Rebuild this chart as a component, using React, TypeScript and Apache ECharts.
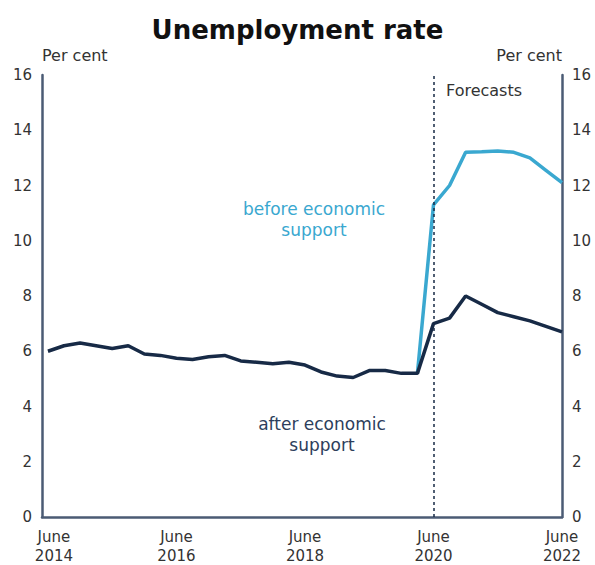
import React, { useEffect, useRef } from "react";
import * as echarts from "echarts";

// Quarterly observations, June 2014 to June 2022
const quarters = [
  "Jun-2014", "Sep-2014", "Dec-2014", "Mar-2015", "Jun-2015", "Sep-2015", "Dec-2015", "Mar-2016",
  "Jun-2016", "Sep-2016", "Dec-2016", "Mar-2017", "Jun-2017", "Sep-2017", "Dec-2017", "Mar-2018",
  "Jun-2018", "Sep-2018", "Dec-2018", "Mar-2019", "Jun-2019", "Sep-2019", "Dec-2019", "Mar-2020",
  "Jun-2020", "Sep-2020", "Dec-2020", "Mar-2021", "Jun-2021", "Sep-2021", "Dec-2021", "Mar-2022",
  "Jun-2022",
];

const afterSupport = [
  6.0, 6.2, 6.3, 6.2, 6.1, 6.2, 5.9, 5.85,
  5.75, 5.7, 5.8, 5.85, 5.65, 5.6, 5.55, 5.6,
  5.5, 5.25, 5.1, 5.05, 5.3, 5.3, 5.2, 5.2,
  7.0, 7.2, 8.0, 7.7, 7.4, 7.25, 7.1, 6.9,
  6.7,
];

const beforeSupport = [
  null, null, null, null, null, null, null, null,
  null, null, null, null, null, null, null, null,
  null, null, null, null, null, null, null, 5.2,
  11.3, 12.0, 13.2, 13.22, 13.25, 13.2, 13.0, 12.55,
  12.1,
];

const xTickPositions = [0, 8, 16, 24, 32];
const xTickMonths = ["June", "June", "June", "June", "June"];
const xTickYears = ["2014", "2016", "2018", "2020", "2022"];
const forecastStart = 24;

const NAVY = "#172a46";
const BLUE = "#3aa8d0";
const AXIS = "#4b5b74";
const TEXT = "#333333";
const FONT = "DejaVu Sans";

export default function App() {
  const ref = useRef<HTMLDivElement>(null);

  useEffect(() => {
    document.body.style.margin = "0";
    if (!ref.current) return;
    const chart = echarts.init(ref.current, undefined, { renderer: "svg" });

    const toPairs = (arr: (number | null)[]) =>
      arr.map((v, i) => [i, v]).filter((p) => p[1] !== null);

    const yAxisCommon = {
      type: "value" as const,
      min: 0,
      max: 16,
      interval: 2,
      axisLine: { show: true, onZero: false, lineStyle: { color: AXIS, width: 2.5 } },
      axisTick: { show: false },
      splitLine: { show: false },
      axisLabel: { color: TEXT, fontSize: 15, fontFamily: FONT, margin: 10 },
      nameGap: 20,
    };

    const labelStyle = { color: TEXT, fontSize: 15, fontFamily: FONT, lineHeight: 19 };

    chart.setOption({
      animation: false,
      title: {
        text: "Unemployment rate",
        left: "center",
        top: 12,
        textStyle: { fontSize: 26, fontWeight: "bold", fontFamily: FONT, color: "#111111" },
      },
      grid: { left: 42, right: 33, top: 75, bottom: 46 },
      xAxis: {
        type: "value",
        min: -0.37,
        max: 32,
        axisLine: { show: true, onZero: false, lineStyle: { color: AXIS, width: 2.5 } },
        axisTick: { show: false },
        splitLine: { show: false },
        axisLabel: {
          customValues: xTickPositions,
          ...labelStyle,
          margin: 10,
          rich: {
            first: { ...labelStyle, padding: [0, 0, 0, 12] },
            norm: { ...labelStyle },
          },
          formatter: (v: number) => {
            const i = xTickPositions.indexOf(Math.round(v));
            if (i < 0) return "";
            const k = i === 0 ? "first" : "norm";
            return `{${k}|${xTickMonths[i]}}\n{${k}|${xTickYears[i]}}`;
          },
        },
      },
      yAxis: [
        {
          ...yAxisCommon,
          position: "left",
          name: "Per cent",
          nameTextStyle: { color: TEXT, fontSize: 16, fontFamily: FONT, align: "left", verticalAlign: "middle" },
        },
        {
          ...yAxisCommon,
          position: "right",
          name: "Per cent",
          nameTextStyle: { color: TEXT, fontSize: 16, fontFamily: FONT, align: "right", verticalAlign: "middle" },
        },
      ],
      series: [
        {
          name: "before economic support",
          type: "line",
          data: toPairs(beforeSupport),
          showSymbol: false,
          symbol: "none",
          lineStyle: { color: BLUE, width: 3.5 },
          itemStyle: { color: BLUE },
          z: 2,
        },
        {
          name: "after economic support",
          type: "line",
          data: toPairs(afterSupport),
          showSymbol: false,
          symbol: "none",
          lineStyle: { color: NAVY, width: 3.5 },
          itemStyle: { color: NAVY },
          z: 3,
          markLine: {
            silent: true,
            symbol: "none",
            label: { show: false },
            lineStyle: { color: NAVY, type: [3, 3], width: 1.5 },
            data: [{ xAxis: forecastStart }],
          },
        },
      ],
      graphic: [
        {
          type: "text",
          left: 446,
          top: 82,
          style: { text: "Forecasts", fill: TEXT, fontSize: 16, fontFamily: FONT },
        },
        {
          type: "text",
          x: 314,
          y: 219,
          style: {
            text: "before economic\nsupport",
            fill: BLUE,
            fontSize: 17,
            fontFamily: FONT,
            lineHeight: 21,
            align: "center",
            verticalAlign: "middle",
          },
        },
        {
          type: "text",
          x: 322,
          y: 434,
          style: {
            text: "after economic\nsupport",
            fill: "#2d3e5c",
            fontSize: 17,
            fontFamily: FONT,
            lineHeight: 21,
            align: "center",
            verticalAlign: "middle",
          },
        },
      ],
    });

    return () => chart.dispose();
  }, []);

  return <div ref={ref} style={{ width: 595, height: 565 }} />;
}
